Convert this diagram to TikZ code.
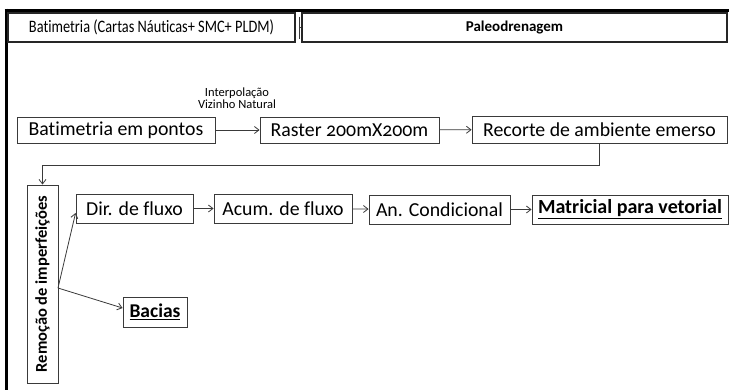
\documentclass[tikz,border=0pt]{standalone}
\usepackage{fontspec}
\setmainfont{Carlito}[Numbers=OldStyle, Ligatures=NoCommon]
\newfontfamily\narrowfont{Carlito}[Numbers=OldStyle, Ligatures=NoCommon, FakeStretch=0.82]
\usetikzlibrary{arrows.meta,calc}
\definecolor{edge}{HTML}{3A3A3A}
\tikzset{
  box/.style={draw=edge, line width=0.9bp, inner sep=0pt, align=center, font=\fontsize{19.8bp}{22bp}\selectfont},
  headbox/.style={draw=black!85, line width=1.6bp, inner sep=0pt, align=center},
  arr/.style={draw=edge, line width=0.8bp, -{Straight Barb[length=4.5bp,width=7bp]}},
  link/.style={draw=edge, line width=0.8bp},
  frame/.style={draw=black, line width=3bp}
}
\begin{document}
\begin{tikzpicture}[x=1bp,y=-1bp]
\fill[white] (0,0) rectangle (729,390);
\useasboundingbox (0,0) rectangle (729,390);

% outer frame strokes
\draw[frame] (4.5,10) -- (729,10);
\draw[frame] (6,8.5) -- (6,390);

% header boxes
\node[headbox, minimum width=287bp, minimum height=29bp, font=\narrowfont\fontsize{17.5bp}{19bp}\selectfont] (bat) at (151.5,27.5) {Batimetria (Cartas Náuticas+ SMC+ PLDM)};
\node[headbox, minimum width=425bp, minimum height=29bp, font=\fontsize{15bp}{17bp}\selectfont\bfseries] (paleo) at (514.5,27.5) {Paleodrenagem};
\coordinate (tick) at (299.5,27.5);
\draw[link] ($(tick)+(0,-11)$) -- ($(tick)+(0,11)$);
\draw[link] (tick) -- (paleo.west);

% first processing row
\node[font=\fontsize{12.5bp}{12bp}\selectfont, align=center] (interp) at (237,98) {Interpolação\\Vizinho Natural};
\node[box, minimum width=198bp, minimum height=26bp] (pts) at (116,130) {Batimetria em pontos};
\node[box, minimum width=179bp, minimum height=26bp] (raster) at (349.5,130) {Raster 200mX200m};
\node[box, minimum width=255bp, minimum height=27bp] (recorte) at (599.5,129.5) {Recorte de ambiente emerso};
\draw[arr] (pts) -- (raster);
\draw[arr] (raster) -- (recorte);

% second processing row
\node[box, rotate=90, minimum width=198bp, minimum height=31bp, font=\fontsize{16.5bp}{18bp}\selectfont\bfseries] (remocao) at (42.5,284) {Remoção de imperfeições};
\draw[arr] (recorte.south) -- ++(0,21.5) -| (remocao.east);

\node[box, minimum width=117bp, minimum height=29bp] (dir) at (134.5,208.5) {Dir. de fluxo};
\node[box, minimum width=138bp, minimum height=29bp] (acum) at (283,208.5) {Acum. de fluxo};
\node[box, minimum width=141bp, minimum height=29bp] (cond) at (439.5,209.5) {An. Condicional};
\node[box, minimum width=196bp, minimum height=29bp, font=\fontsize{20bp}{22bp}\selectfont\bfseries] (matr) at (630,209.5) {\underline{Matricial para vetorial}};
\node[box, minimum width=64bp, minimum height=30bp, font=\fontsize{19.5bp}{22bp}\selectfont\bfseries] (bacias) at (155,312) {\underline{Bacias}};

\draw[arr] (dir) -- (acum);
\draw[arr] (acum) -- (cond);
\draw[arr] (cond) -- (matr);

\coordinate (split) at (58,288);
\draw[arr] (split) -- ($(dir.west)+(0,4.5)$);
\draw[arr] (split) -- ($(bacias.west)+(0,-4)$);
\end{tikzpicture}
\end{document}
